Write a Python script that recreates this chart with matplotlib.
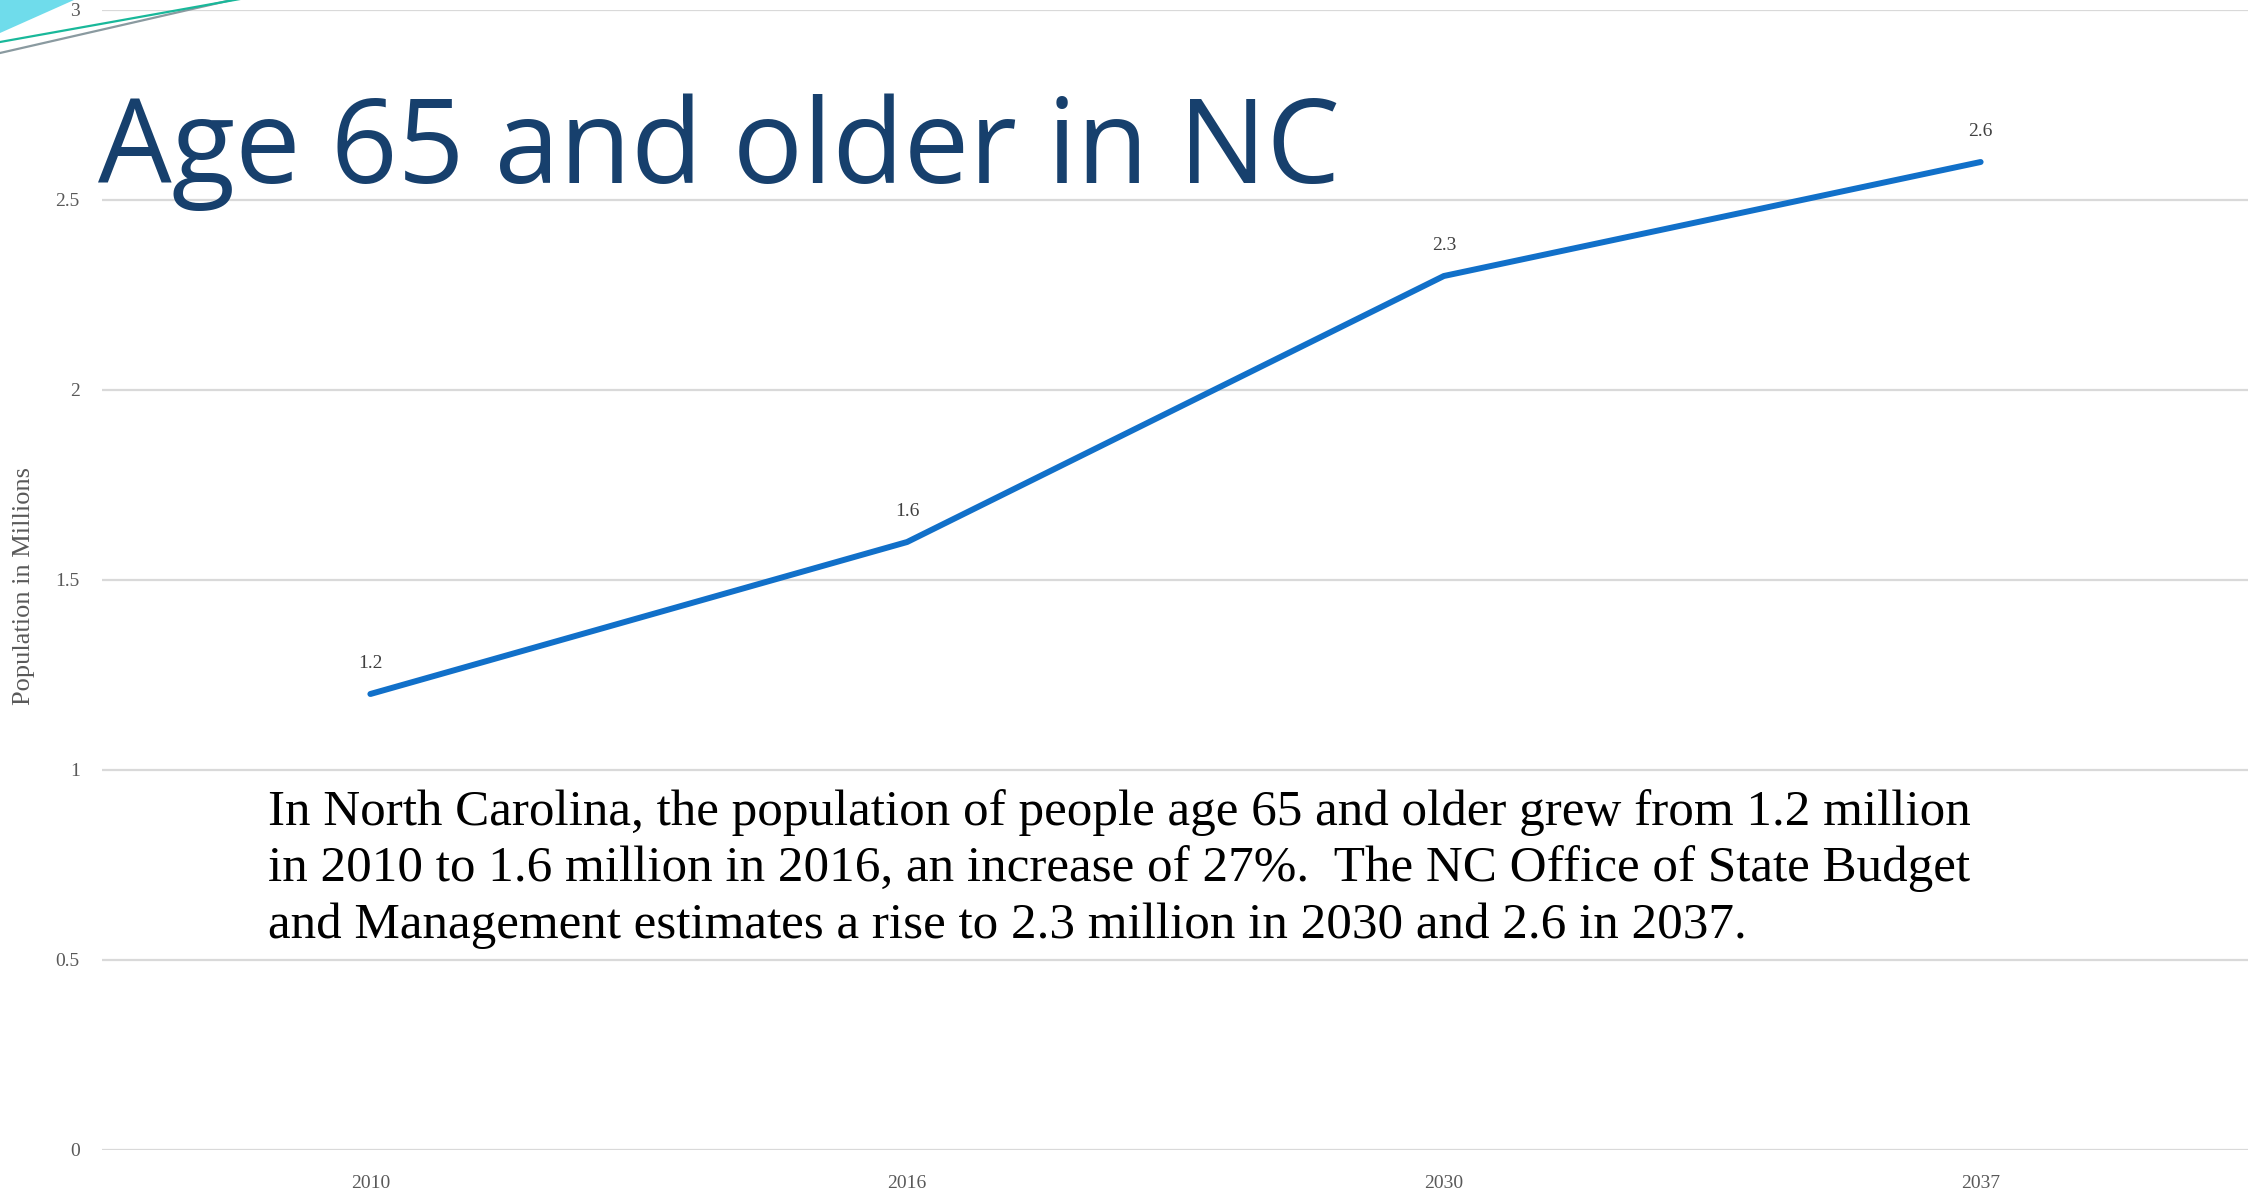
import matplotlib
matplotlib.use("Agg")
import matplotlib.pyplot as plt
from matplotlib.lines import Line2D
from matplotlib.patches import Polygon

# ------------------------------------------
# data: NC population age 65+ (millions)
# ------------------------------------------
YEARS = ['2010', '2016', '2030', '2037']
POPULATION = [1.2, 1.6, 2.3, 2.6]
Y_TICKS = [0, 0.5, 1, 1.5, 2, 2.5, 3]
Y_TICK_LABELS = ['0', '0.5', '1', '1.5', '2', '2.5', '3']

TITLE = 'Age 65 and older in NC'
Y_LABEL = 'Population in Millions'
BODY_LINES = [
    'In North Carolina, the population of people age 65 and older grew from 1.2 million',
    'in 2010 to 1.6 million in 2016, an increase of 27%.  The NC Office of State Budget',
    'and Management estimates a rise to 2.3 million in 2030 and 2.6 in 2037.',
]

W, H = 2248, 1194
SERIF = ['Liberation Serif', 'DejaVu Serif']
SANS = ['Open Sans', 'DejaVu Sans']


def px(x, y):
    # pixel position (top-left origin) -> figure fraction
    return x / W, 1 - y / H


fig = plt.figure(figsize=(W / 100, H / 100), dpi=100)
fig.patch.set_facecolor('white')

# corner decoration
fig.patches.append(Polygon([px(0, 0), px(74, 0), px(0, 33)], closed=True,
                           transform=fig.transFigure, facecolor='#6FDCEB',
                           edgecolor='none', zorder=0))
for (x0, y0), (x1, y1), c in [((0, 53), (236, -1), '#8A9AA0'),
                              ((0, 42), (240, -1), '#19B89A')]:
    fig.lines.append(Line2D(*zip(px(x0, y0), px(x1, y1)), transform=fig.transFigure,
                            color=c, linewidth=1.6, zorder=0))

x0, y_top = px(102, 10)
x1, y_bot = px(2249, 1150)
ax = fig.add_axes([x0, y_bot, x1 - x0, y_top - y_bot])
ax.patch.set_alpha(0)

xs = list(range(len(YEARS)))
ax.plot(xs, POPULATION, color='#1170C9', linewidth=4.3,
        solid_capstyle='round', solid_joinstyle='round', zorder=3)
for x, v in zip(xs, POPULATION):
    ax.annotate(f'{v}', (x, v), xytext=(0, 22), textcoords='offset points',
                ha='center', va='center', fontsize=14, family=SERIF, color='#404040')

ax.set_xlim(-0.5, len(YEARS) - 0.5)
ax.set_ylim(0, 3)
ax.set_xticks(xs)
ax.set_xticklabels(YEARS, family=SERIF, fontsize=14, color='#595959')
ax.set_yticks(Y_TICKS)
ax.set_yticklabels(Y_TICK_LABELS, family=SERIF, fontsize=14, color='#595959')
ax.tick_params(axis='x', length=0, pad=18)
ax.tick_params(axis='y', length=0, pad=16)
ax.grid(axis='y', color='#D9D9D9', linewidth=1.6)
ax.set_axisbelow(True)
for s in ax.spines.values():
    s.set_visible(False)

fig.text(*px(24, 586), Y_LABEL, rotation=90, ha='center', va='center',
         fontsize=19, family=SERIF, color='#595959')

# slide title and commentary
fig.text(*px(98, 183), TITLE, ha='left', va='baseline', fontsize=84,
         family=SANS, color='#17406D')
for i, line in enumerate(BODY_LINES):
    fig.text(*px(268, 825 + 56.5 * i), line, ha='left', va='baseline',
             fontsize=36.8, family=SERIF, color='black')

fig.savefig('out.png', dpi=100)
